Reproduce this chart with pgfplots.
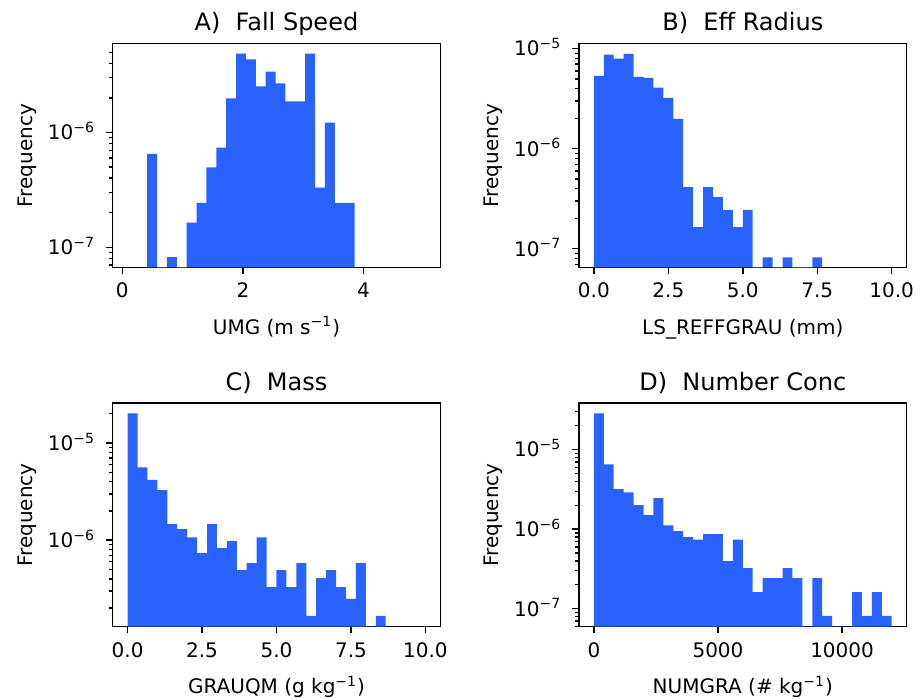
\documentclass[border=0pt]{standalone}
\usepackage{fontspec}
\setmainfont{DejaVu Sans}
\usepackage{pgfplots}
\pgfplotsset{compat=1.18}
\definecolor{barblue}{RGB}{41,98,255}

\pgfplotsset{
  panel/.style={
    scale only axis, width=163.8pt, height=111.8pt,
    anchor=south west,
    axis line style={line width=0.7pt},
    tick style={line width=0.7pt, black},
    major tick length=3.3pt, minor tick length=1.9pt,
    tick align=outside, xtick pos=bottom, ytick pos=left,
    scaled x ticks=false,
    tick label style={font=\fontsize{10}{12}\selectfont},
    xticklabel style={anchor=base, yshift=-12pt},
    yticklabel style={anchor=base east, yshift=-3.65pt, xshift=-2pt},
    label style={font=\fontsize{10}{12}\selectfont},
    title style={at={(axis description cs:0.5,1.0045)}, anchor=base,
                 font=\fontsize{12}{14}\selectfont},
    xlabel style={at={(axis description cs:0.5,-0.2983)}, anchor=base},
    ylabel style={at={(axis description cs:-0.2442,0.5)}, anchor=base},
    ylabel={Frequency},
  },
  bars/.style={ybar interval, fill=barblue, draw=none},
}

\begin{document}
\begin{tikzpicture}
\useasboundingbox (0,0) rectangle (461.5pt,349pt);

% A) fall speed
\begin{axis}[ymode=log, log origin y=infty, panel, at={(56.35pt,215.35pt)},
  title={A)\ \ Fall Speed}, xlabel={UMG (m s\textsuperscript{−1})},
  xmin=-0.159, xmax=5.274, ymin=6.68e-8, ymax=5.94e-6,
  xtick={0,2,4}, xticklabels={0,2,4},
  ytick={1e-7,1e-6}, yticklabels={10\textsuperscript{−7},10\textsuperscript{−6}},
  minor ytick={7e-8,8e-8,9e-8,2e-7,3e-7,4e-7,5e-7,6e-7,7e-7,8e-7,9e-7,2e-6,3e-6,4e-6,5e-6},
]
\addplot[bars] coordinates {
  (0.4127,6.5e-7)(0.5765,1e-12)(0.7403,8.2e-8)(0.9042,1e-12)
  (1.0680,1.64e-7)(1.2318,2.44e-7)(1.3956,4.96e-7)(1.5595,7.39e-7)
  (1.7233,1.98e-6)(1.8871,4.86e-6)(2.0510,4.34e-6)(2.2148,2.52e-6)
  (2.3786,3.39e-6)(2.5425,2.68e-6)(2.7063,1.87e-6)(2.8701,1.87e-6)
  (3.0339,4.86e-6)(3.1978,3.31e-7)(3.3616,1.22e-6)(3.5254,2.44e-7)
  (3.6893,2.44e-7)(3.8531,2.44e-7)};
\end{axis}

% B) effective radius
\begin{axis}[ymode=log, log origin y=infty, panel, at={(289.5pt,215.35pt)},
  title={B)\ \ Eff Radius}, xlabel={LS\_REFFGRAU (mm)},
  xmin=-0.5, xmax=10.5, ymin=6.52e-8, ymax=1.122e-5,
  xtick={0,2.5,5,7.5,10}, xticklabels={0.0,2.5,5.0,7.5,10.0},
  ytick={1e-7,1e-6,1e-5},
  yticklabels={10\textsuperscript{−7},10\textsuperscript{−6},10\textsuperscript{−5}},
  minor ytick={7e-8,8e-8,9e-8,2e-7,3e-7,4e-7,5e-7,6e-7,7e-7,8e-7,9e-7,2e-6,3e-6,4e-6,5e-6,6e-6,7e-6,8e-6,9e-6},
]
\addplot[bars] coordinates {
  (0,5.35e-6)(0.3333,8.7e-6)(0.6667,7.94e-6)(1,8.9e-6)(1.3333,5.24e-6)
  (1.6667,5.12e-6)(2,4.07e-6)(2.3333,3.23e-6)(2.6667,1.99e-6)(3,4.14e-7)
  (3.3333,1.64e-7)(3.6667,4.14e-7)(4,3.29e-7)(4.3333,2.44e-7)(4.6667,1.64e-7)
  (5,2.44e-7)(5.3333,1e-12)(5.6667,8.2e-8)(6,1e-12)(6.3333,8.2e-8)
  (6.6667,1e-12)(7,1e-12)(7.3333,8.2e-8)(7.6667,8.2e-8)};
\end{axis}

% C) mass
\begin{axis}[ymode=log, log origin y=infty, panel, at={(56.35pt,35.65pt)},
  title={C)\ \ Mass}, xlabel={GRAUQM (g kg\textsuperscript{−1})},
  xmin=-0.5, xmax=10.5, ymin=1.285e-7, ymax=2.576e-5,
  xtick={0,2.5,5,7.5,10}, xticklabels={0.0,2.5,5.0,7.5,10.0},
  ytick={1e-6,1e-5}, yticklabels={10\textsuperscript{−6},10\textsuperscript{−5}},
  minor ytick={2e-7,3e-7,4e-7,5e-7,6e-7,7e-7,8e-7,9e-7,2e-6,3e-6,4e-6,5e-6,6e-6,7e-6,8e-6,9e-6,2e-5},
]
\addplot[bars] coordinates {
  (0,2.02e-5)(0.3333,5.62e-6)(0.6667,4.17e-6)(1,3.27e-6)(1.3333,1.46e-6)
  (1.6667,1.30e-6)(2,1.07e-6)(2.3333,7.34e-7)(2.6667,1.46e-6)(3,8.27e-7)
  (3.3333,9.77e-7)(3.6667,4.92e-7)(4,5.81e-7)(4.3333,1.07e-6)(4.6667,3.29e-7)
  (5,4.92e-7)(5.3333,3.29e-7)(5.6667,5.81e-7)(6,1.66e-7)(6.3333,4.06e-7)
  (6.6667,4.92e-7)(7,3.29e-7)(7.3333,2.48e-7)(7.6667,5.81e-7)(8,1e-12)
  (8.3333,1.66e-7)(8.6667,1.66e-7)};
\end{axis}

% D) number concentration
\begin{axis}[ymode=log, log origin y=infty, panel, at={(289.5pt,35.65pt)},
  title={D)\ \ Number Conc}, xlabel={NUMGRA (\# kg\textsuperscript{−1})},
  xmin=-600, xmax=12600, ymin=5.94e-8, ymax=3.85e-5,
  xtick={0,5000,10000}, xticklabels={0,5000,10000},
  ytick={1e-7,1e-6,1e-5},
  yticklabels={10\textsuperscript{−7},10\textsuperscript{−6},10\textsuperscript{−5}},
  minor ytick={6e-8,7e-8,8e-8,9e-8,2e-7,3e-7,4e-7,5e-7,6e-7,7e-7,8e-7,9e-7,2e-6,3e-6,4e-6,5e-6,6e-6,7e-6,8e-6,9e-6,2e-5,3e-5},
]
\addplot[bars] coordinates {
  (0,2.85e-5)(400,6.54e-6)(800,3.18e-6)(1200,2.91e-6)(1600,2.0e-6)
  (2000,1.50e-6)(2400,2.45e-6)(2800,1.12e-6)(3200,9.44e-7)(3600,7.94e-7)
  (4000,7.4e-7)(4400,8.65e-7)(4800,8.65e-7)(5200,3.98e-7)(5600,7.4e-7)
  (6000,3.24e-7)(6400,1.62e-7)(6800,2.43e-7)(7200,2.43e-7)(7600,3.24e-7)
  (8000,2.43e-7)(8400,1e-12)(8800,2.43e-7)(9200,8.1e-8)(9600,1e-12)
  (10000,1e-12)(10400,1.62e-7)(10800,8.1e-8)(11200,1.62e-7)(11600,8.1e-8)
  (12000,8.1e-8)};
\end{axis}
\end{tikzpicture}
\end{document}
